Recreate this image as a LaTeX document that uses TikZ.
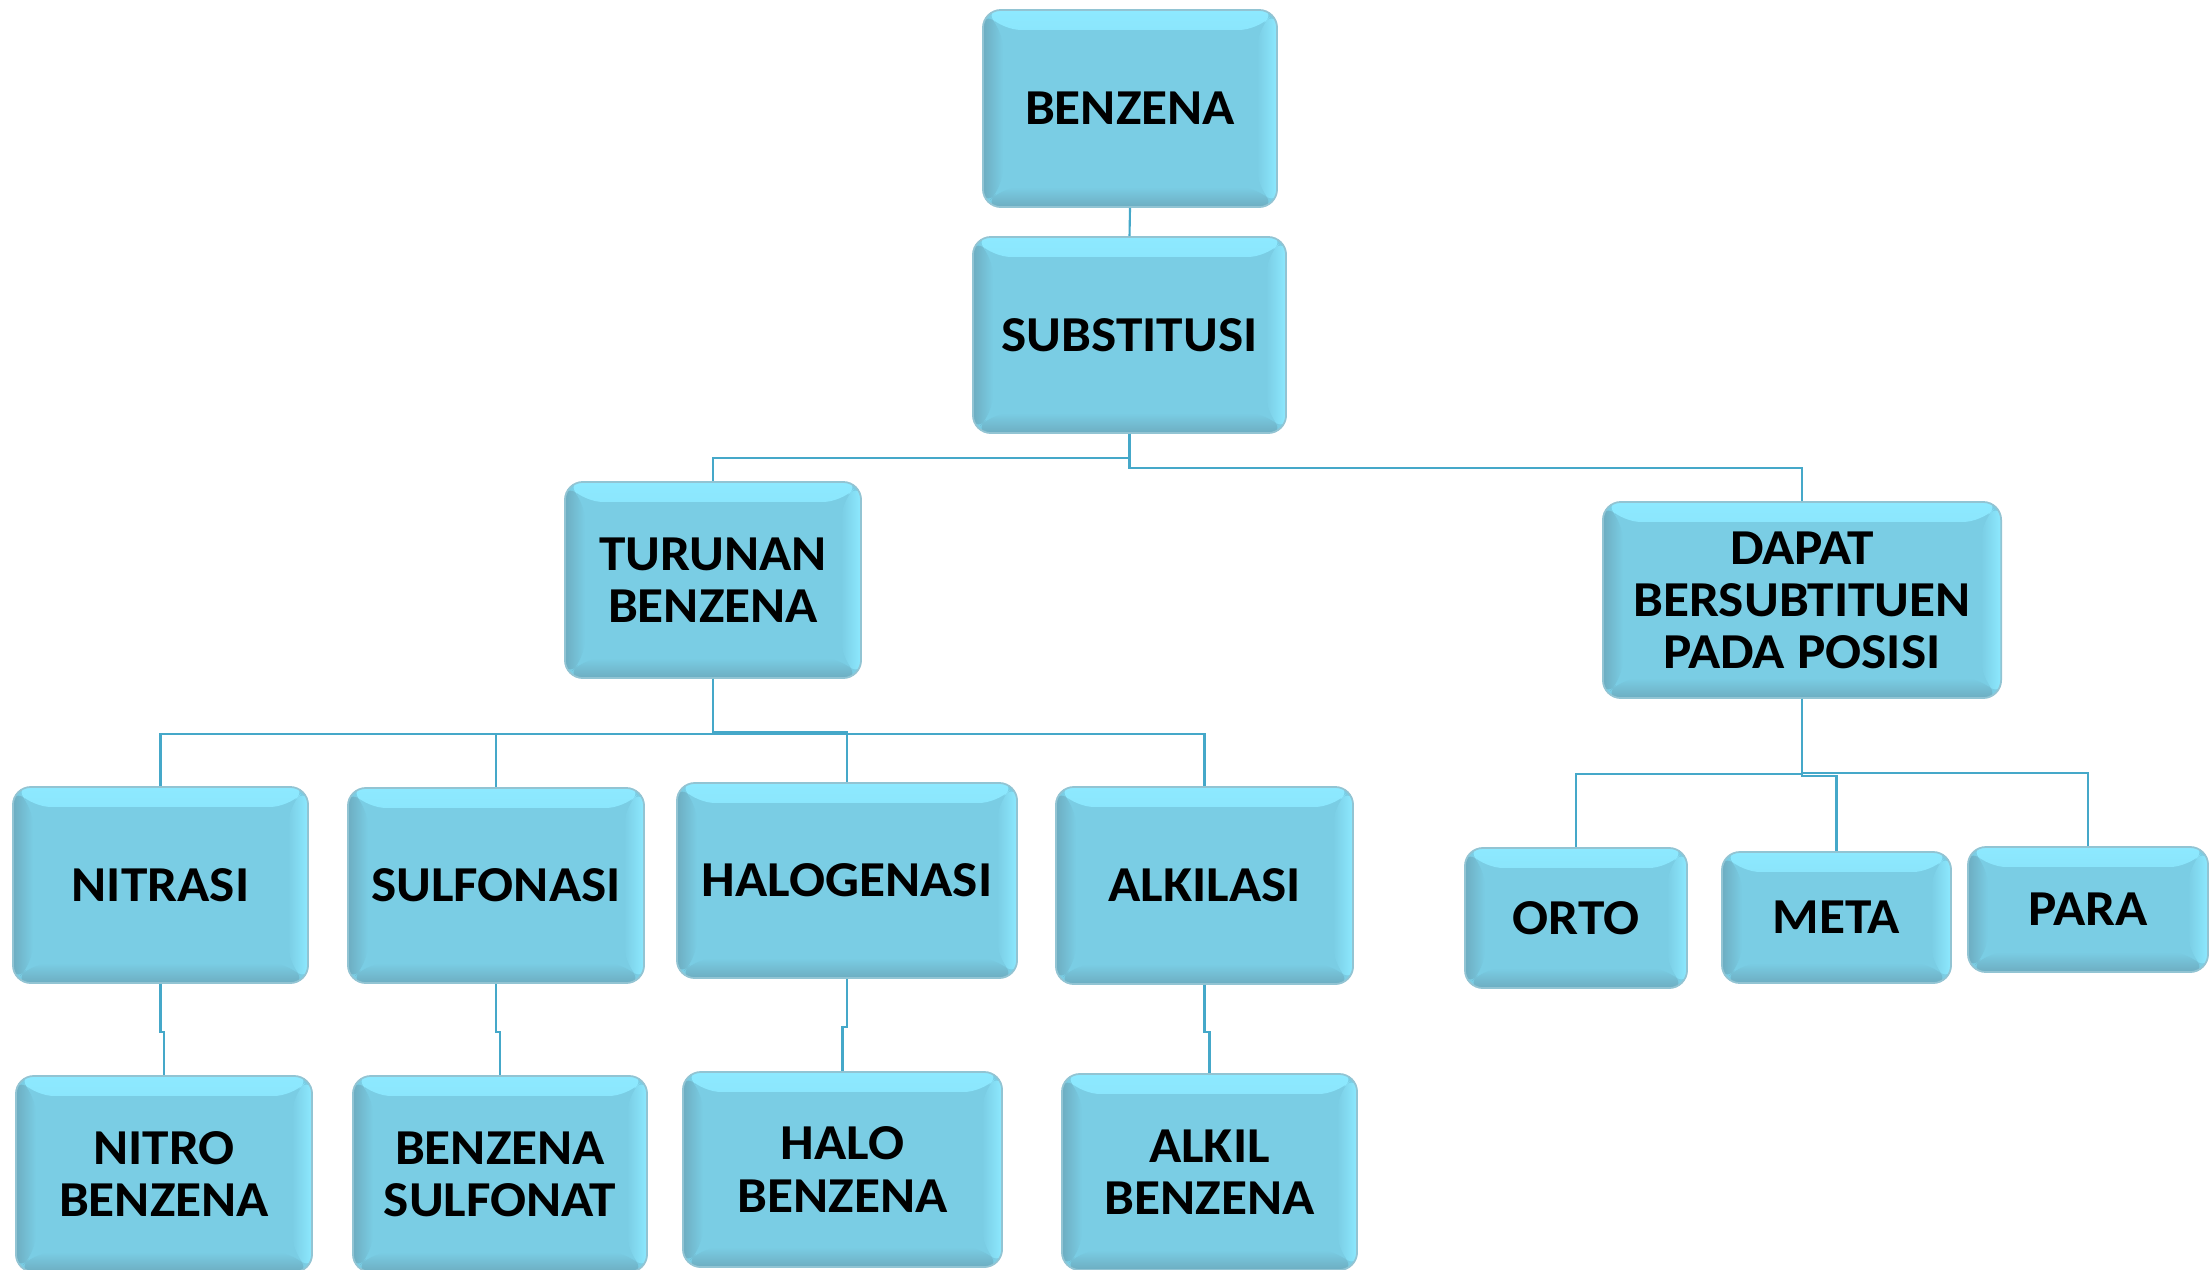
\documentclass[tikz,border=0pt]{standalone}
\usepackage{fontspec}
\setmainfont{Carlito}[FakeStretch=1.06]
\definecolor{boxfill}{HTML}{7ACDE4}
\definecolor{boxlight}{HTML}{8DE9FF}
\definecolor{boxdark}{HTML}{6DADC1}
\definecolor{boxline}{HTML}{92C4D3}
\definecolor{conn}{HTML}{45A8C9}
\tikzset{
  chartbox/.style={rounded corners=0.18cm, fill=boxfill, draw=boxline, line width=0.5pt,
    inner sep=0pt, align=center, text=black,
    font=\fontsize{14.3}{14.8}\selectfont\bfseries,
    path picture={
      \def\bv{0.2cm}
      \shade[top color=boxlight, bottom color=boxfill]
        (path picture bounding box.north west) -- (path picture bounding box.north east)
        -- ([xshift=-\bv,yshift=-\bv]path picture bounding box.north east)
        -- ([xshift=\bv,yshift=-\bv]path picture bounding box.north west) -- cycle;
      \shade[top color=boxfill, bottom color=boxdark]
        (path picture bounding box.south west) -- (path picture bounding box.south east)
        -- ([xshift=-\bv,yshift=\bv]path picture bounding box.south east)
        -- ([xshift=\bv,yshift=\bv]path picture bounding box.south west) -- cycle;
      \shade[left color=boxdark, right color=boxfill]
        (path picture bounding box.north west)
        -- ([xshift=\bv,yshift=-\bv]path picture bounding box.north west)
        -- ([xshift=\bv,yshift=\bv]path picture bounding box.south west)
        -- (path picture bounding box.south west) -- cycle;
      \shade[left color=boxfill, right color=boxlight]
        (path picture bounding box.north east)
        -- (path picture bounding box.south east)
        -- ([xshift=-\bv,yshift=\bv]path picture bounding box.south east)
        -- ([xshift=-\bv,yshift=-\bv]path picture bounding box.north east) -- cycle;
    }},
  connector/.style={draw=conn, line width=0.6pt},
}
\begin{document}
\begin{tikzpicture}[x=0.01cm, y=-0.01cm]
  \useasboundingbox[fill=white] (0,0) rectangle (2210,1269);

  % level 1-2
  \node[chartbox, minimum width=2.94cm, minimum height=1.97cm] (benz) at (1130,108.5) {BENZENA};
  \node[chartbox, minimum width=3.13cm, minimum height=1.96cm] (subs) at (1129.5,335) {SUBSTITUSI};

  % level 3
  \node[chartbox, minimum width=2.96cm, minimum height=1.96cm] (tur) at (713,580) {TURUNAN\\BENZENA};
  \node[chartbox, minimum width=3.98cm, minimum height=1.96cm] (dapat) at (1802,600) {DAPAT\\BERSUBTITUEN\\PADA POSISI};

  % level 4
  \node[chartbox, minimum width=2.95cm, minimum height=1.96cm] (nit) at (160.5,885) {NITRASI};
  \node[chartbox, minimum width=2.96cm, minimum height=1.95cm] (sulf) at (496,885.5) {SULFONASI};
  \node[chartbox, minimum width=3.40cm, minimum height=1.95cm] (halo) at (847,880.5) {HALOGENASI};
  \node[chartbox, minimum width=2.97cm, minimum height=1.97cm] (alk) at (1204.5,885.5) {ALKILASI};

  \node[chartbox, minimum width=2.22cm, minimum height=1.40cm] (orto) at (1576,918) {ORTO};
  \node[chartbox, minimum width=2.29cm, minimum height=1.31cm] (meta) at (1836.5,917.5) {META};
  \node[chartbox, minimum width=2.40cm, minimum height=1.25cm] (para) at (2088,909.5) {PARA};

  % level 5
  \node[chartbox, minimum width=2.96cm, minimum height=1.96cm] (nitb) at (164,1174) {NITRO\\BENZENA};
  \node[chartbox, minimum width=2.94cm, minimum height=1.96cm] (sulb) at (500,1174) {BENZENA\\SULFONAT};
  \node[chartbox, minimum width=3.19cm, minimum height=1.95cm] (halob) at (842.5,1169.5) {HALO\\BENZENA};
  \node[chartbox, minimum width=2.95cm, minimum height=1.96cm] (alkb) at (1209.5,1172) {ALKIL\\BENZENA};

  % connectors
  \draw[connector] (benz.south) -- (subs.north);
  \draw[connector] (subs.south) -- ++(0,24) -| (tur.north);
  \draw[connector] (subs.south) -- ++(0,34) -| (dapat.north);

  \draw[connector] (tur.south) -- ++(0,55) -| (nit.north);
  \draw[connector] (tur.south) -- ++(0,55) -| (sulf.north);
  \draw[connector] (tur.south) -- ++(0,53) -| (halo.north);
  \draw[connector] (tur.south) -- ++(0,55) -| (alk.north);

  \draw[connector] (nit.south) -- ++(0,48) -| (nitb.north);
  \draw[connector] (sulf.south) -- ++(0,48) -| (sulb.north);
  \draw[connector] (halo.south) -- ++(0,48) -| (halob.north);
  \draw[connector] (alk.south) -- ++(0,47) -| (alkb.north);

  \draw[connector] (dapat.south) -- ++(0,75) -| (orto.north);
  \draw[connector] (dapat.south) -- ++(0,77) -| (meta.north);
  \draw[connector] (dapat.south) -- ++(0,74) -| (para.north);
\end{tikzpicture}
\end{document}
